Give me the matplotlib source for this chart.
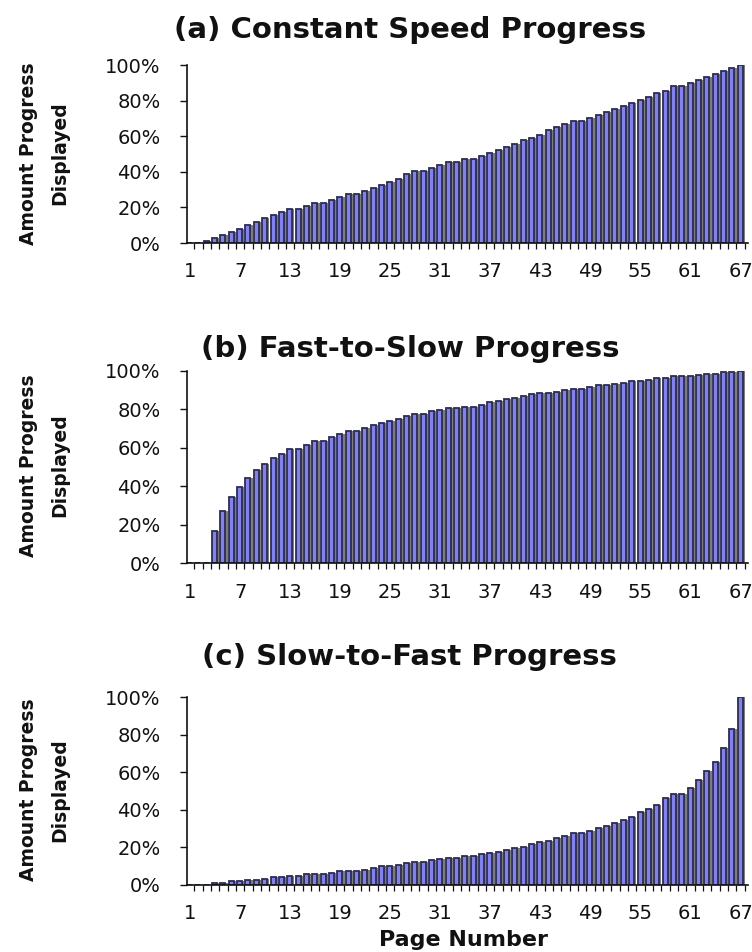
import matplotlib
matplotlib.use("Agg")
import matplotlib.pyplot as plt
import matplotlib.ticker as ticker
import numpy as np

# page numbers 1..67
pages = np.arange(1, 68)

# (a) constant speed, values in % (pages 1-2 show nothing)
constant_pct = [0, 0, 1.3, 3.0, 4.7, 6.2, 7.9, 10.1, 11.6, 13.9,
                15.7, 17.2, 19.3, 19.3, 21.0, 22.5, 22.5, 24.0, 25.8, 27.7,
                27.7, 29.4, 31.1, 32.6, 34.3, 36.1, 38.6, 40.3, 40.3, 42.0,
                43.7, 45.5, 45.5, 47.4, 47.4, 49.1, 50.6, 52.4, 53.9, 55.8,
                57.7, 59.2, 60.9, 63.3, 65.2, 66.9, 68.5, 68.5, 70.2, 71.9,
                73.8, 75.5, 77.0, 78.7, 80.3, 82.2, 84.1, 85.6, 88.2, 88.2,
                89.7, 91.6, 93.3, 94.9, 96.6, 98.1, 100.0]

# (b) fast-to-slow
fast_slow_pct = [0, 0, 0, 17.0, 27.2, 34.4, 39.6, 44.5, 48.4, 51.4,
                 54.7, 56.7, 59.3, 59.3, 61.6, 63.3, 63.3, 65.4, 67.0, 68.7,
                 68.7, 70.2, 71.8, 72.7, 73.9, 74.9, 76.5, 77.5, 77.5, 78.9,
                 79.6, 80.4, 80.4, 81.1, 81.1, 82.2, 83.6, 84.4, 85.1, 86.0,
                 87.0, 87.7, 88.4, 88.4, 89.1, 90.0, 90.7, 90.7, 91.3, 92.4,
                 92.4, 93.1, 93.8, 94.6, 94.6, 95.3, 96.2, 96.2, 97.1, 97.1,
                 97.1, 97.8, 98.4, 98.4, 99.1, 99.1, 100.0]

# (c) slow-to-fast
slow_fast_pct = [0, 0, 0, 1.2, 1.2, 2.0, 2.0, 2.7, 2.7, 3.4,
                 4.3, 4.3, 5.0, 5.0, 5.9, 5.9, 5.9, 6.6, 7.5, 7.5,
                 7.5, 8.2, 8.9, 9.9, 9.9, 10.8, 11.5, 12.3, 12.3, 13.1,
                 13.8, 14.6, 14.6, 15.6, 15.6, 16.3, 17.1, 17.8, 18.7, 19.5,
                 20.4, 22.0, 22.9, 23.6, 25.2, 26.1, 27.7, 27.7, 28.6, 30.2,
                 31.6, 33.2, 34.6, 36.4, 38.9, 40.7, 42.8, 46.2, 48.5, 48.5,
                 51.7, 56.0, 60.6, 65.7, 72.8, 83.1, 100.0]

titles = ["(a) Constant Speed Progress",
          "(b) Fast-to-Slow Progress",
          "(c) Slow-to-Fast Progress"]
series = [constant_pct, fast_slow_pct, slow_fast_pct]
label_pages = [1, 7, 13, 19, 25, 31, 37, 43, 49, 55, 61, 67]

# [left, bottom, width, height] for each panel, and title / ylabel heights
boxes = [[0.2487, 0.7447, 0.746, 0.187],
         [0.2487, 0.4083, 0.746, 0.2023],
         [0.2487, 0.0704, 0.746, 0.1972]]
title_y = [0.9685, 0.6334, 0.3099]
ylabel_y = [0.839, 0.511, 0.170]

FACE = "#8282ea"
EDGE = "#2c2c55"
SHADOW = "#7c7c7c"

fig = plt.figure(figsize=(7.52, 9.52), dpi=100)

for box, vals, title, ty, ly in zip(boxes, series, titles, title_y, ylabel_y):
    ax = fig.add_axes(box)
    v = np.array(vals) / 100.0
    # grey shadow behind each bar, then the bar itself
    ax.bar(pages + 0.25, v, width=0.55, color=SHADOW, linewidth=0, zorder=1)
    ax.bar(pages - 0.05, v, width=0.6, color=FACE, edgecolor=EDGE,
           linewidth=1.3, zorder=2)

    ax.set_xlim(0.64, 67.9)
    ax.set_ylim(0, 1.0)
    ax.yaxis.set_major_locator(ticker.MultipleLocator(0.2))
    ax.yaxis.set_major_formatter(ticker.PercentFormatter(1.0, decimals=0))
    ax.set_xticks(label_pages)
    ax.set_xticklabels([str(p) for p in label_pages])
    ax.set_xticks(pages + 0.5, minor=True)

    for side in ["top", "right"]:
        ax.spines[side].set_visible(False)
    for side in ["left", "bottom"]:
        ax.spines[side].set_linewidth(1.2)
        ax.spines[side].set_color("#111111")

    ax.tick_params(axis="y", direction="out", length=5, width=1.0,
                   pad=14, labelsize=14, colors="#111111")
    ax.tick_params(axis="x", which="major", length=0, pad=14,
                   labelsize=14, colors="#111111")
    ax.tick_params(axis="x", which="minor", direction="out", length=4,
                   width=0.9, colors="#111111")

    fig.text(0.545, ty, title, ha="center", va="center",
             fontsize=21, fontweight="bold", color="#111111")
    fig.text(0.059, ly, "Amount Progress\nDisplayed", rotation=90,
             ha="center", va="center", multialignment="center",
             fontsize=13.5, fontweight="bold", linespacing=1.8, color="#111111")

fig.text(0.616, 0.0126, "Page Number", ha="center", va="center",
         fontsize=16, fontweight="bold", color="#111111")

plt.savefig("out.png", dpi=100)
plt.close(fig)
